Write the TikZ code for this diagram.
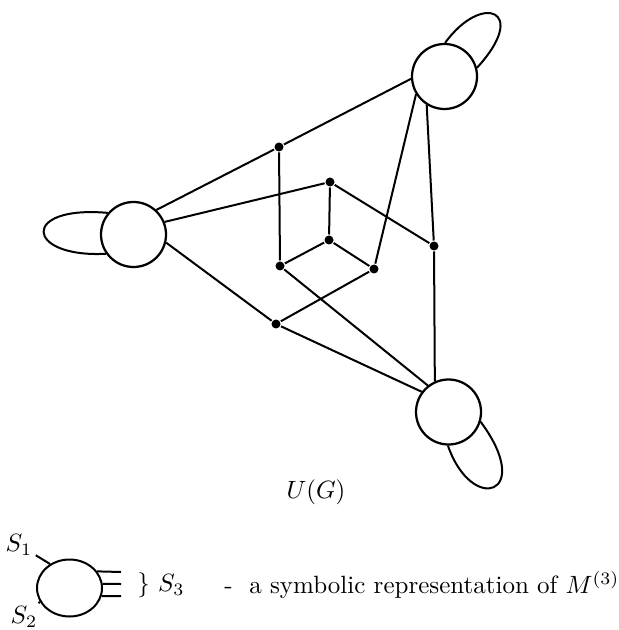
\documentclass[tikz,border=0pt]{standalone}
\usetikzlibrary{shapes.geometric}
\begin{document}
\begin{tikzpicture}[x=0.4pt,y=-0.4pt,line width=0.8pt,
  blob/.style={draw, circle, line width=0.9pt, minimum size=26pt, inner sep=0pt},
  dot/.style={fill, circle, minimum size=3.6pt, inner sep=0pt}]
\useasboundingbox (0,0) rectangle (618,630);
\node[blob] (A) at (444.5,76.5) {};
\node[blob] (B) at (133.5,234.5) {};
\node[blob] (C) at (448.5,412) {};
\node[dot] (d1) at (279,147) {};
\node[dot] (d2) at (330,182) {};
\node[dot] (d3) at (329,240) {};
\node[dot] (d4) at (280,266) {};
\node[dot] (d5) at (374,269) {};
\node[dot] (d6) at (434,246) {};
\node[dot] (d7) at (276,324) {};
\draw (B.47) -- (d1) -- (A.184);
\draw (B.22) -- (d2) -- (d6) -- (A.238);
\draw (A.212) -- (d5);
\draw (d6) -- (C.114);
\draw (d1) -- (d4) -- (d3) -- (d2);
\draw (d3) -- (d5) -- (d7);
\draw (d4) -- (C.128);
\draw (B.-14) -- (d7) -- (C.143);
\draw (A.89) .. controls (482,-8) and (530,10) .. (A.15);
\draw (B.140) .. controls (20,205) and (25,258) .. (B.215);
\draw (C.269) .. controls (472,515) and (535,495) .. (C.343);
\node (ug) at (316,492) {$U(G)$};
\node[draw, ellipse, minimum width=26pt, minimum height=22.8pt, inner sep=0pt] (M) at (69.5,588) {};
\node[inner sep=1pt] (s1) at (19,545) {$S_1$};
\node[inner sep=1pt] (s2) at (24,617) {$S_2$};
\draw (s1) -- (M.129);
\draw (s2) -- (M.205);
\coordinate (t1) at (121,572);
\coordinate (t2) at (121,584);
\coordinate (t3) at (121,596);
\draw (M.31) -- (t1);
\draw (M.7) -- (t2);
\draw (M.-14) -- (t3);
\node[anchor=west] (s3) at (128,585) {$\}\ S_3$};
\node[anchor=west] (note) at (215,585) {-\ \ a symbolic representation of $M^{(3)}$};
\end{tikzpicture}
\end{document}
